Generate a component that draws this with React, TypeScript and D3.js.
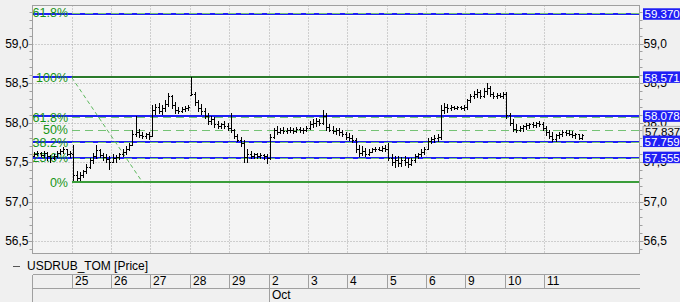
import React from "react";
import * as d3 from "d3";

// ---- data ----
const dayLabels = ["22", "25", "26", "27", "28", "29", "2", "3", "4", "5", "6", "9", "10", "11"];
const monthStarts = [{ dayIndex: 6, label: "Oct" }];
const yTicks = [56.5, 57.0, 57.5, 58.0, 58.5, 59.0];
const hLines = [59.37, 58.571, 58.078, 57.759, 57.555];
const lastPrice = 57.837;
const fibHigh = 58.571;
const fibLow = 57.243;
const fibRatios = [1.618, 1, 0.618, 0.5, 0.382, 0.236, 0];
const fibLabels = ["61.8%", "100%", "61.8%", "50%", "38.2%", "23.6%", "0%"];
const seriesName = "USDRUB_TOM [Price]";

// OHLC bars per day: [open, high, low, close]
const sep22 = [
  [57.58, 57.63, 57.57, 57.6], [57.6, 57.64, 57.58, 57.61], [57.61, 57.63, 57.57, 57.59], [57.59, 57.64, 57.56, 57.62],
  [57.62, 57.63, 57.52, 57.57], [57.57, 57.59, 57.5, 57.55], [57.55, 57.6, 57.53, 57.58], [57.58, 57.64, 57.56, 57.61],
  [57.61, 57.67, 57.59, 57.64], [57.64, 57.69, 57.61, 57.66], [57.66, 57.67, 57.58, 57.6], [57.6, 57.64, 57.56, 57.62],
];
const sep25 = [
  [57.6, 57.72, 57.27, 57.33], [57.33, 57.38, 57.26, 57.3], [57.3, 57.37, 57.27, 57.34], [57.34, 57.4, 57.3, 57.38],
  [57.38, 57.48, 57.36, 57.44], [57.44, 57.55, 57.42, 57.52], [57.52, 57.62, 57.48, 57.58], [57.58, 57.72, 57.55, 57.65],
  [57.65, 57.67, 57.56, 57.59], [57.59, 57.62, 57.52, 57.56], [57.56, 57.6, 57.5, 57.54], [57.54, 57.57, 57.4, 57.5],
];
const sep26 = [
  [57.5, 57.6, 57.49, 57.55], [57.55, 57.59, 57.5, 57.56], [57.56, 57.62, 57.53, 57.6], [57.6, 57.66, 57.57, 57.63],
  [57.63, 57.7, 57.6, 57.67], [57.67, 57.74, 57.64, 57.72], [57.72, 57.9, 57.72, 57.86], [57.86, 58.08, 57.82, 57.88],
  [57.88, 57.92, 57.81, 57.84], [57.84, 57.88, 57.8, 57.83], [57.83, 57.87, 57.8, 57.85], [57.85, 57.88, 57.79, 57.83],
];
const sep27 = [
  [57.83, 58.22, 57.82, 58.16], [58.16, 58.24, 58.1, 58.2], [58.2, 58.25, 58.12, 58.14], [58.14, 58.22, 58.1, 58.18],
  [58.18, 58.28, 58.14, 58.24], [58.24, 58.37, 58.2, 58.33], [58.33, 58.35, 58.18, 58.22], [58.22, 58.26, 58.12, 58.16],
  [58.16, 58.2, 58.12, 58.15], [58.15, 58.2, 58.13, 58.17], [58.17, 58.21, 58.14, 58.18], [58.18, 58.22, 58.15, 58.19],
];
const sep28 = [
  [58.35, 58.57, 58.34, 58.36], [58.36, 58.38, 58.22, 58.26], [58.26, 58.28, 58.14, 58.18], [58.18, 58.24, 58.1, 58.14],
  [58.14, 58.18, 58.05, 58.08], [58.08, 58.12, 57.98, 58.02], [58.02, 58.08, 57.97, 58.05], [58.05, 58.07, 57.94, 57.98],
  [57.98, 58.02, 57.92, 57.96], [57.96, 58.0, 57.92, 57.98], [57.98, 58.02, 57.93, 57.95], [57.95, 57.99, 57.9, 57.93],
];
const sep29 = [
  [57.93, 58.12, 57.87, 57.9], [57.9, 57.92, 57.8, 57.83], [57.83, 57.86, 57.76, 57.78], [57.78, 57.82, 57.7, 57.74],
  [57.74, 57.78, 57.5, 57.56], [57.56, 57.66, 57.5, 57.6], [57.6, 57.64, 57.54, 57.58], [57.58, 57.62, 57.55, 57.6],
  [57.6, 57.62, 57.55, 57.58], [57.58, 57.61, 57.54, 57.59], [57.59, 57.6, 57.53, 57.57], [57.57, 57.6, 57.48, 57.55],
];
const oct2 = [
  [57.55, 57.85, 57.53, 57.82], [57.82, 57.93, 57.8, 57.9], [57.9, 57.96, 57.85, 57.88], [57.88, 57.93, 57.86, 57.91],
  [57.91, 57.94, 57.86, 57.89], [57.89, 57.93, 57.86, 57.9], [57.9, 57.94, 57.87, 57.91], [57.91, 57.93, 57.86, 57.89],
  [57.89, 57.94, 57.87, 57.92], [57.92, 57.94, 57.87, 57.9], [57.9, 57.93, 57.86, 57.91], [57.91, 57.96, 57.88, 57.93],
];
const oct3 = [
  [57.93, 58.02, 57.91, 57.98], [57.98, 58.05, 57.94, 58.0], [58.0, 58.06, 57.95, 58.02], [58.02, 58.05, 57.96, 57.99],
  [57.99, 58.16, 57.97, 58.08], [58.08, 58.12, 57.9, 57.94], [57.94, 57.98, 57.88, 57.91], [57.91, 57.95, 57.86, 57.89],
  [57.89, 57.93, 57.85, 57.9], [57.9, 57.93, 57.84, 57.88], [57.88, 57.9, 57.82, 57.85], [57.85, 57.88, 57.78, 57.82],
];
const oct4 = [
  [57.82, 57.87, 57.77, 57.8], [57.8, 57.84, 57.75, 57.78], [57.78, 57.8, 57.62, 57.66], [57.66, 57.72, 57.57, 57.62],
  [57.62, 57.7, 57.58, 57.64], [57.64, 57.68, 57.57, 57.6], [57.6, 57.66, 57.58, 57.63], [57.63, 57.68, 57.62, 57.66],
  [57.66, 57.69, 57.63, 57.67], [57.67, 57.69, 57.64, 57.65], [57.65, 57.7, 57.63, 57.68], [57.68, 57.71, 57.63, 57.66],
];
const oct5 = [
  [57.66, 57.74, 57.52, 57.55], [57.55, 57.6, 57.45, 57.5], [57.5, 57.58, 57.43, 57.52], [57.52, 57.57, 57.44, 57.49],
  [57.49, 57.56, 57.44, 57.53], [57.53, 57.58, 57.46, 57.5], [57.5, 57.55, 57.43, 57.47], [57.47, 57.55, 57.45, 57.52],
  [57.52, 57.6, 57.5, 57.57], [57.57, 57.62, 57.54, 57.6], [57.6, 57.66, 57.57, 57.63], [57.63, 57.69, 57.6, 57.67],
];
const oct6 = [
  [57.67, 57.8, 57.66, 57.76], [57.76, 57.82, 57.74, 57.79], [57.79, 57.84, 57.75, 57.8], [57.8, 57.85, 57.76, 57.82],
  [57.82, 58.22, 57.78, 58.16], [58.16, 58.25, 58.12, 58.2], [58.2, 58.24, 58.13, 58.18], [58.18, 58.22, 58.15, 58.19],
  [58.19, 58.21, 58.16, 58.18], [58.18, 58.21, 58.16, 58.19], [58.19, 58.21, 58.16, 58.18], [58.18, 58.22, 58.15, 58.19],
];
const oct9 = [
  [58.19, 58.3, 58.17, 58.28], [58.28, 58.36, 58.25, 58.33], [58.33, 58.4, 58.3, 58.36], [58.36, 58.42, 58.32, 58.38],
  [58.38, 58.41, 58.3, 58.34], [58.34, 58.44, 58.32, 58.4], [58.4, 58.5, 58.36, 58.44], [58.44, 58.46, 58.33, 58.36],
  [58.36, 58.38, 58.31, 58.34], [58.34, 58.37, 58.31, 58.35], [58.35, 58.37, 58.32, 58.34], [58.34, 58.38, 58.31, 58.36],
];
const oct10 = [
  [58.36, 58.38, 58.05, 58.1], [58.1, 58.12, 57.96, 58.0], [58.0, 58.04, 57.88, 57.92], [57.92, 57.98, 57.87, 57.9],
  [57.9, 57.95, 57.88, 57.93], [57.93, 57.97, 57.89, 57.95], [57.95, 57.99, 57.91, 57.97], [57.97, 58.0, 57.93, 57.98],
  [57.98, 58.01, 57.94, 57.97], [57.97, 58.01, 57.94, 57.99], [57.99, 58.02, 57.95, 57.98], [57.98, 58.01, 57.9, 57.93],
];
const oct11 = [
  [57.93, 57.95, 57.84, 57.88], [57.88, 57.91, 57.8, 57.83], [57.83, 57.88, 57.76, 57.79], [57.79, 57.86, 57.76, 57.84],
  [57.84, 57.88, 57.8, 57.86], [57.86, 57.9, 57.82, 57.88], [57.88, 57.91, 57.84, 57.87], [57.87, 57.9, 57.83, 57.86],
  [57.86, 57.89, 57.81, 57.84], [57.84, 57.87, 57.8, 57.85], [57.85, 57.86, 57.78, 57.8], [57.8, 57.85, 57.78, 57.837],
];
const dayBars = [sep22, sep25, sep26, sep27, sep28, sep29, oct2, oct3, oct4, oct5, oct6, oct9, oct10, oct11];

// ---- layout ----
const W = 680;
const H = 302;
const PL = 32.5;
const PR = 639.5;
const PT = 5.5;
const PB = 253.5;
const FONT = "'Liberation Sans', Arial, sans-serif";
const BLUE = "#1f1ff5";
const GRID = "#a8a8a8";
const FIB_TEXT = "#179417";
const FIB_DASH = "#74c274";
const FIB_SOLID_HI = "#2a7a2a";
const FIB_SOLID_LO = "#3a9d3a";

export default function App() {
  const x = d3.scaleLinear().domain([0, 15.414]).range([32.3, 639.3]);
  const y = d3.scaleLinear().domain([56.5, 59.0]).range([241, 43.5]);
  const barsPerDay = 12;
  const fmtAxis = (v: number) => d3.format(".1f")(v).replace(".", ",");
  const fmtBox = d3.format(".3f");
  const crisp = (v: number) => Math.round(v) + 0.5;
  const even = (v: number) => Math.round(v);

  const bars: { x: number; o: number; h: number; l: number; c: number }[] = [];
  dayBars.forEach((day, d) => {
    day.forEach((b, i) => {
      bars.push({ x: x(d + (i + 0.5) / barsPerDay), o: b[0], h: b[1], l: b[2], c: b[3] });
    });
  });

  const fibX0 = x(1);
  const fibDiagX1 = x(2.8);
  const minorTicks = d3.range(564, 595).map((v) => v / 10);

  return (
    <svg width={W} height={H} style={{ position: "fixed", left: 0, top: 0 }} fontFamily={FONT}>
      <defs>
        <clipPath id="plot">
          <rect x={PL} y={PT} width={PR - PL} height={PB - PT} />
        </clipPath>
      </defs>
      <rect x={0} y={0} width={W} height={H} fill="#f0f0f0" />
      <rect x={PL} y={PT} width={PR - PL} height={PB - PT} fill="#f4f4f4" />

      <g clipPath="url(#plot)">
        {/* horizontal grid */}
        {yTicks.map((t) => (
          <line key={"hg" + t} x1={PL} x2={PR} y1={crisp(y(t))} y2={crisp(y(t))} stroke={GRID} strokeDasharray="1,2" />
        ))}
        {/* vertical grid */}
        {dayLabels.map((_, d) =>
          d === 0 ? null : (
            <line key={"vg" + d} x1={crisp(x(d))} x2={crisp(x(d))} y1={PT} y2={PB} stroke={GRID} strokeDasharray="1,2" />
          )
        )}

        {/* blue horizontal lines */}
        <g shapeRendering="crispEdges">
          {hLines.map((v) => (
            <g key={"bl" + v}>
              <line x1={PL} x2={PR} y1={even(y(v)) + 1.5} y2={even(y(v)) + 1.5} stroke="#ffffff" strokeWidth={1} />
              <line x1={PL} x2={PR} y1={even(y(v))} y2={even(y(v))} stroke={BLUE} strokeWidth={2} />
            </g>
          ))}
        </g>

        {/* fibonacci levels */}
        {fibRatios.map((r, i) => {
          const v = fibLow + r * (fibHigh - fibLow);
          const yy = y(v);
          const solid = r === 1 || r === 0;
          return (
            <g key={"fib" + i}>
              <line
                x1={fibX0}
                x2={PR}
                y1={solid ? even(yy) : crisp(yy)}
                y2={solid ? even(yy) : crisp(yy)}
                stroke={solid ? (r === 1 ? FIB_SOLID_HI : FIB_SOLID_LO) : FIB_DASH}
                strokeWidth={solid ? 2 : 1.5}
                strokeDasharray={solid ? undefined : "8,5"}
                shapeRendering="crispEdges"
              />
              <text x={68} y={yy} dy="0.36em" textAnchor="end" fontSize={12.5} fill={FIB_TEXT}>
                {fibLabels[i]}
              </text>
            </g>
          );
        })}
        <line
          x1={fibX0}
          y1={y(fibHigh)}
          x2={fibDiagX1}
          y2={y(fibLow)}
          stroke="#5cb85c"
          strokeWidth={1}
          strokeDasharray="4,3"
        />

        {/* OHLC bars */}
        <g stroke="#000" strokeWidth={1} shapeRendering="crispEdges">
          {bars.map((b, i) => {
            const bx = Math.round(b.x) + 0.5;
            return (
              <g key={"b" + i}>
                <line x1={bx} x2={bx} y1={y(b.h)} y2={y(b.l) + 0.5} />
                <line x1={bx - 1.5} x2={bx} y1={Math.round(y(b.o)) + 0.5} y2={Math.round(y(b.o)) + 0.5} />
                <line x1={bx} x2={bx + 1.5} y1={Math.round(y(b.c)) + 0.5} y2={Math.round(y(b.c)) + 0.5} />
              </g>
            );
          })}
        </g>
      </g>

      {/* plot border */}
      <rect x={PL} y={PT} width={PR - PL} height={PB - PT} fill="none" stroke="#a0a0a0" />

      {/* axis ticks */}
      {minorTicks.map((t) => {
        const yy = crisp(y(t));
        if (yy < PT || yy > PB) return null;
        const major = Math.abs(t * 2 - Math.round(t * 2)) < 1e-6;
        const len = major ? 4 : 3;
        return (
          <g key={"mt" + t} stroke="#a0a0a0">
            <line x1={PL - len} x2={PL} y1={yy} y2={yy} />
            <line x1={PR} x2={PR + len} y1={yy} y2={yy} />
          </g>
        );
      })}

      {/* axis labels */}
      {yTicks.map((t) => (
        <g key={"yl" + t} fontSize={12} fill="#000">
          <text x={28.5} y={y(t)} dy="0.36em" textAnchor="end">
            {fmtAxis(t)}
          </text>
          <text x={643.5} y={y(t)} dy="0.36em">
            {fmtAxis(t)}
          </text>
        </g>
      ))}

      {/* last price box */}
      <g>
        <rect x={643} y={y(lastPrice) - 9} width={40} height={11} fill="#e8e8e8" stroke="#b0b0b0" />
        <text x={645} y={y(lastPrice) - 3.5} dy="0.36em" fontSize={11.5} fill="#000">
          {fmtBox(lastPrice)}
        </text>
      </g>
      {/* blue level boxes */}
      {hLines.map((v) => (
        <g key={"bx" + v}>
          <rect x={643} y={y(v) - 6} width={40} height={11.5} fill={BLUE} />
          <text x={644.5} y={y(v)} dy="0.36em" fontSize={11.5} fill="#fff">
            {fmtBox(v)}
          </text>
        </g>
      ))}

      {/* legend */}
      <line x1={13} x2={20} y1={266.5} y2={266.5} stroke="#555" />
      <text x={27} y={266} dy="0.36em" fontSize={12} fill="#000">
        {seriesName}
      </text>

      {/* date table */}
      <g stroke="#a0a0a0" shapeRendering="crispEdges">
        <line x1={PL} x2={PR} y1={274.5} y2={274.5} />
        <line x1={PL} x2={PR} y1={288.5} y2={288.5} />
        <line x1={PL} x2={PL} y1={274.5} y2={H} />
        {dayLabels.map((_, d) =>
          d === 0 ? null : (
            <line key={"dc" + d} x1={crisp(x(d))} x2={crisp(x(d))} y1={274.5} y2={288.5} />
          )
        )}
        {monthStarts.map((m) => (
          <line key={"ms" + m.label} x1={crisp(x(m.dayIndex))} x2={crisp(x(m.dayIndex))} y1={288.5} y2={H} />
        ))}
      </g>
      {dayLabels.map((lab, d) =>
        d === 0 ? null : (
          <text key={"dl" + d} x={crisp(x(d)) + 2.5} y={285} fontSize={12} fill="#000">
            {lab}
          </text>
        )
      )}
      {monthStarts.map((m) => (
        <text key={"ml" + m.label} x={crisp(x(m.dayIndex)) + 2.5} y={299} fontSize={12} fill="#000">
          {m.label}
        </text>
      ))}
    </svg>
  );
}
